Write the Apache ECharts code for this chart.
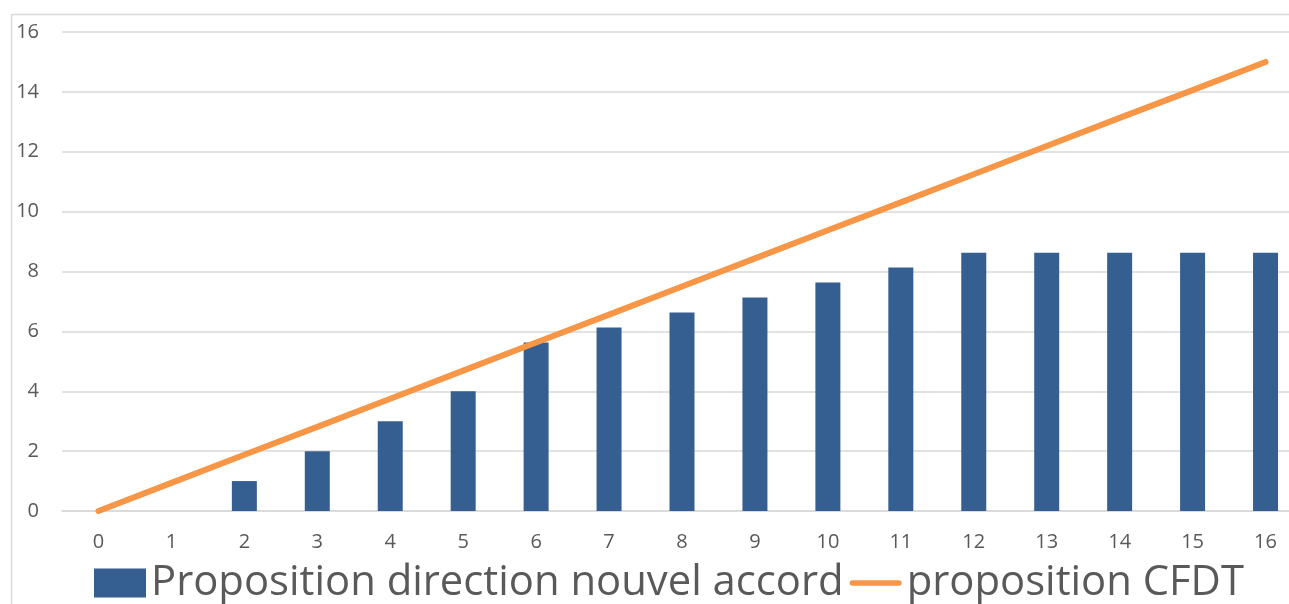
<!DOCTYPE html>
<html>
<head>
<meta charset="utf-8">
<script src="https://cdn.jsdelivr.net/npm/echarts@6/dist/echarts.min.js"></script>
<style>
  html, body { margin: 0; padding: 0; background: #ffffff; overflow: hidden; }
  /* the chart is a little wider than the window; its right edge is clipped */
  #chart { width: 1302px; height: 604px; }
</style>
</head>
<body>
<div id="chart"></div>
<script>
// Categories along the horizontal axis
const categories = ['0', '1', '2', '3', '4', '5', '6', '7', '8', '9', '10', '11', '12', '13', '14', '15', '16'];

// Bars: direction proposal
const directionValues = [0, 0, 1, 2, 3, 4, 5.63, 6.13, 6.63, 7.13, 7.63, 8.13, 8.63, 8.63, 8.63, 8.63, 8.63];

// Line: CFDT proposal
const cfdtValues = [0, 0.94, 1.88, 2.81, 3.75, 4.69, 5.63, 6.56, 7.5, 8.44, 9.38, 10.31, 11.25, 12.19, 13.13, 14.06, 15];

// Value axis range
const yMin = 0;
const yMax = 16;
const yStep = 2;

const seriesNames = ['Proposition direction nouvel accord', 'proposition CFDT'];

const textColor = '#595959';
const gridColor = '#D9D9D9';
const fontFamily = '"Open Sans", "Noto Sans", sans-serif';

// thick rounded stroke used as the line series' legend key
const lineKeyIcon = 'path://M3,0 L55,0 A3,3 0 0 1 55,6 L3,6 A3,3 0 0 1 3,0 Z';

const chart = echarts.init(document.getElementById('chart'), null, { renderer: 'canvas' });

chart.setOption({
  animation: false,
  backgroundColor: '#ffffff',
  graphic: [{
    type: 'rect',
    shape: { x: 11.5, y: 14.5, width: 1400, height: 700 },
    style: { fill: 'none', stroke: gridColor, lineWidth: 1.5 },
    silent: true,
    z: -10
  }],
  grid: { left: 62, right: 0, top: 32, bottom: 93, containLabel: false },
  legend: {
    data: [
      { name: seriesNames[0], icon: 'rect' },
      { name: seriesNames[1], icon: lineKeyIcon }
    ],
    left: 89,
    top: 557,
    itemWidth: 52,
    itemHeight: 29,
    itemGap: 6,
    textStyle: { fontSize: 41.8, color: textColor, fontFamily: fontFamily }
  },
  xAxis: {
    type: 'category',
    data: categories,
    boundaryGap: true,
    axisLine: { show: true, lineStyle: { color: gridColor, width: 1.5 } },
    axisTick: { show: false },
    axisLabel: { color: textColor, fontSize: 20, fontFamily: fontFamily, margin: 21 }
  },
  yAxis: {
    type: 'value',
    min: yMin,
    max: yMax,
    interval: yStep,
    axisLine: { show: false },
    axisTick: { show: false },
    splitLine: { lineStyle: { color: gridColor, width: 1.5 } },
    axisLabel: { color: textColor, fontSize: 20, fontFamily: fontFamily, margin: 23 }
  },
  series: [
    {
      name: seriesNames[0],
      type: 'bar',
      data: directionValues,
      barWidth: 25,
      itemStyle: { color: '#365F91' },
      z: 2
    },
    {
      name: seriesNames[1],
      type: 'line',
      data: cfdtValues,
      symbol: 'none',
      itemStyle: { color: '#F79646' },
      lineStyle: { color: '#F79646', width: 6, cap: 'round' },
      z: 3
    }
  ]
});
</script>
</body>
</html>
